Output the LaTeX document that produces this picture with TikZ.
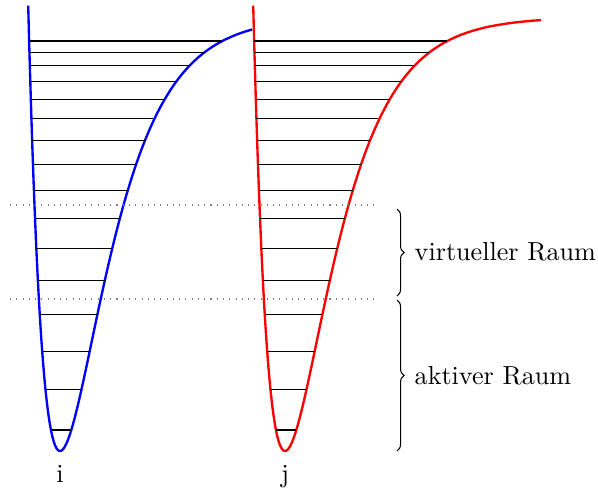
\documentclass[tikz,border=0pt]{standalone}
\usetikzlibrary{decorations.pathreplacing}

\begin{document}
\begin{tikzpicture}[
  x=0.3831pt, y=-0.3831pt,
  declare function={morse(\u)=434*(1-exp(-0.022*\u))*(1-exp(-0.022*\u));},
  well/.style={line width=0.9pt, smooth, samples=200},
  level/.style={thin},
  border/.style={dotted, gray},
  brace/.style={decorate, decoration={brace, amplitude=2.7pt}},
  lbl/.style={anchor=west, inner sep=2pt}
]
\useasboundingbox (0,0) rectangle (598,490);
% Potentialkurven
\draw[well, blue, domain=28.2:252] plot (\x, {451-morse(\x-60)});
\draw[well, red, domain=253.2:541] plot (\x, {451-morse(\x-285)});
% Schwingungsniveaus
\foreach \xo in {60,285} {
  \foreach \n in {0,...,15} {
    \pgfmathsetmacro\E{42.52*(\n+0.5)-1.0366*(\n+0.5)^2}
    \pgfmathsetmacro\s{sqrt(\E/434)}
    \pgfmathsetmacro\ul{-ln(1+\s)/0.022}
    \pgfmathsetmacro\ur{-ln(1-\s)/0.022}
    \draw[level] ({\xo+\ul},{451-\E}) -- ({\xo+\ur},{451-\E});
  }
}
% Grenzen
\draw[border] (10,205) -- (378,205);
\draw[border] (10,299) -- (378,299);
% Klammern
\coordinate (vtop) at (397,209);
\coordinate (vbot) at (397,296);
\coordinate (atop) at (397,300);
\coordinate (abot) at (397,451);
\draw[brace] (vtop) -- (vbot);
\draw[brace] (atop) -- (abot);
\node[lbl] (virt) at (409,252) {virtueller Raum};
\node[lbl] (akt) at (409,376) {aktiver Raum};
% Zustaende
\node[anchor=base] (lbli) at (60,482) {i};
\node[anchor=base] (lblj) at (285,482) {j};
\end{tikzpicture}
\end{document}
